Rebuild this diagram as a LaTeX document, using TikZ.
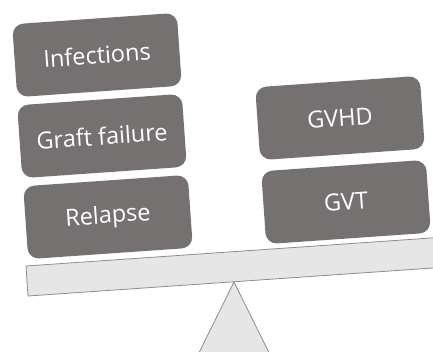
\documentclass[tikz,border=0pt]{standalone}
\usepackage{fontspec}
\setmainfont{Open Sans}
\definecolor{boxgrey}{HTML}{767171}
\definecolor{beamfill}{HTML}{E7E6E6}
\definecolor{beamline}{HTML}{8C8C8C}
\begin{document}
\begin{tikzpicture}[x=1pt,y=-1pt,
  weight/.style={fill=boxgrey, rounded corners=11pt, minimum width=165pt, minimum height=73pt,
    inner sep=0pt, text=white, font=\fontsize{23.5}{28}\selectfont, rotate=4},
  part/.style={fill=beamfill, draw=beamline, line width=0.8pt}]
\useasboundingbox (0,0) rectangle (433,351);
\clip (0,0) rectangle (433,351);
% fulcrum
\coordinate (apex) at (234,282);
\coordinate (bl) at (185.5,380);
\coordinate (br) at (282.5,380);
\draw[part] (apex) -- (br) -- (bl) -- cycle;
% beam
\coordinate (b1) at (26,266);
\coordinate (b2) at (460,236);
\coordinate (b3) at (462,266);
\coordinate (b4) at (28,296);
\draw[part] (b1) -- (b2) -- (b3) -- (b4) -- cycle;
% weights
\node[weight] (inf) at (97,55) {Infections};
\node[weight] (graft) at (102,136) {Graft failure};
\node[weight] (rel) at (108,217) {Relapse};
\node[weight] (gvhd) at (340,118) {GVHD};
\node[weight] (gvt) at (346,202) {GVT};
\end{tikzpicture}
\end{document}
